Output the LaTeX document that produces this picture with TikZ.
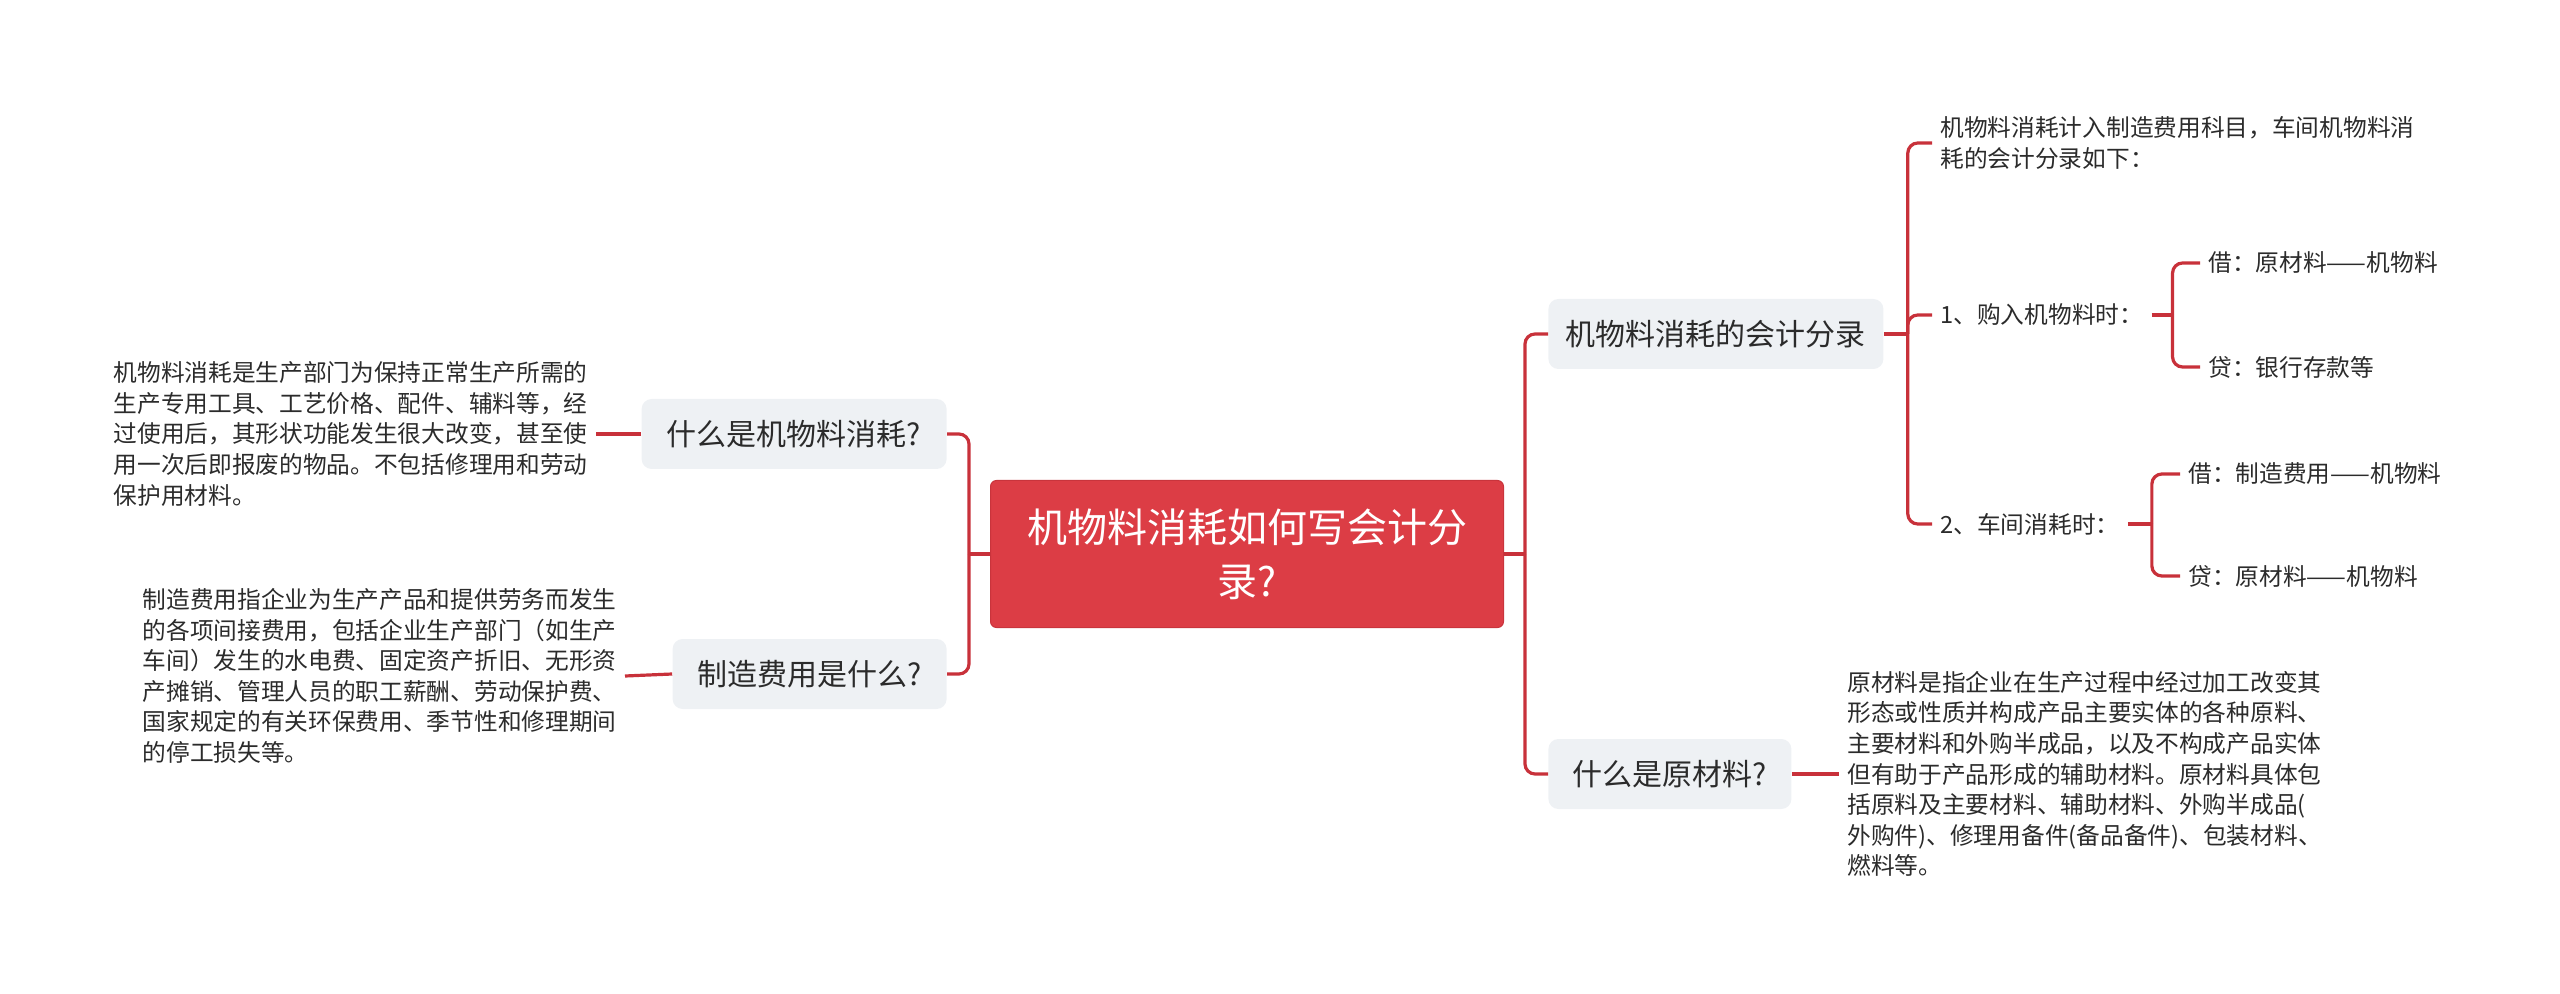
\documentclass[tikz,border=0pt]{standalone}
\usepackage{fontspec}
\setmainfont{Noto Sans CJK SC}
\definecolor{mmroot}{HTML}{DC3D45}
\definecolor{mmrootedge}{HTML}{C9343C}
\definecolor{mmline}{HTML}{C8313A}
\definecolor{mmtopic}{HTML}{EEF1F4}
\definecolor{mmtext}{HTML}{2B2B2B}
\tikzset{
  rootbox/.style={draw=mmrootedge, line width=0.5pt, fill=mmroot, rounded corners=3pt,
    text=white, align=center, font=\fontsize{20}{27}\selectfont,
    minimum width=256.5pt, minimum height=73.5pt},
  topicbox/.style={fill=mmtopic, rounded corners=5pt, text=mmtext,
    font=\fontsize{15}{18}\selectfont, minimum height=35pt, inner xsep=8pt},
  leaftext/.style={text=mmtext, align=left, font=\fontsize{11.85}{15.3}\selectfont, inner sep=4pt},
  link/.style={draw=mmline, line width=1.6pt},
  elbow/.style={link, rounded corners=5pt},
}
\begin{document}
\begin{tikzpicture}[x=0.5pt, y=-0.5pt]
\useasboundingbox (0,0) rectangle (2560,994);

% centre
\node[rootbox] (root) at (1247,554) {机物料消耗如何写会计分\\录?};

% left side
\node[topicbox, anchor=east, minimum width=152.5pt] (whatis) at (947,434) {什么是机物料消耗?};
\node[topicbox, anchor=east, minimum width=137pt] (mfgcost) at (947,674) {制造费用是什么?};
\node[leaftext, anchor=east] (whatisnote) at (596,434) {机物料消耗是生产部门为保持正常生产所需的\\
生产专用工具、工艺价格、配件、辅料等，经\\
过使用后，其形状功能发生很大改变，甚至使\\
用一次后即报废的物品。不包括修理用和劳动\\
保护用材料。};
\node[leaftext, anchor=east] (mfgnote) at (625,676) {制造费用指企业为生产产品和提供劳务而发生\\
的各项间接费用，包括企业生产部门（如生产\\
车间）发生的水电费、固定资产折旧、无形资\\
产摊销、管理人员的职工薪酬、劳动保护费、\\
国家规定的有关环保费用、季节性和修理期间\\
的停工损失等。};

% right side
\node[topicbox, anchor=west, minimum width=167.5pt] (entry) at (1548,334) {机物料消耗的会计分录};
\node[topicbox, anchor=west, minimum width=121.5pt] (rawmat) at (1548,774) {什么是原材料?};
\node[leaftext, anchor=west] (entrynote) at (1932,143) {机物料消耗计入制造费用科目，车间机物料消\\
耗的会计分录如下：};
\node[leaftext, anchor=west] (buy) at (1932,315) {1、购入机物料时：};
\node[leaftext, anchor=west] (use) at (1932,524) {2、车间消耗时：};
\node[leaftext, anchor=west] (buydr) at (2200,263) {借：原材料——机物料};
\node[leaftext, anchor=west] (buycr) at (2200,367) {贷：银行存款等};
\node[leaftext, anchor=west] (usedr) at (2180,474) {借：制造费用——机物料};
\node[leaftext, anchor=west] (usecr) at (2180,576) {贷：原材料——机物料};
\node[leaftext, anchor=west] (rawnote) at (1839,774) {原材料是指企业在生产过程中经过加工改变其\\
形态或性质并构成产品主要实体的各种原料、\\
主要材料和外购半成品，以及不构成产品实体\\
但有助于产品形成的辅助材料。原材料具体包\\
括原料及主要材料、辅助材料、外购半成品(\\
外购件)、修理用备件(备品备件)、包装材料、\\
燃料等。};

% connectors
\draw[link] (root.west) -- ++(-21,0) coordinate (lspine);
\draw[elbow] (lspine) |- (whatis.east);
\draw[elbow] (lspine) |- (mfgcost.east);
\draw[link] (whatis.west) -- (whatisnote.east);
\draw[link] (mfgcost.west) -- (mfgnote.east);

\draw[link] (root.east) -- ++(21,0) coordinate (rspine);
\draw[elbow] (rspine) |- (entry.west);
\draw[elbow] (rspine) |- (rawmat.west);
\draw[link] (rawmat.east) -- (rawnote.west);

\draw[link] (entry.east) -- ++(24,0) coordinate (espine);
\draw[elbow] (espine) |- (entrynote.west);
\draw[elbow] (espine) |- (buy.west);
\draw[elbow] (espine) |- (use.west);

\draw[link] (buy.east) -- ++(21,0) coordinate (bspine);
\draw[elbow] (bspine) |- (buydr.west);
\draw[elbow] (bspine) |- (buycr.west);

\draw[link] (use.east) -- ++(24,0) coordinate (uspine);
\draw[elbow] (uspine) |- (usedr.west);
\draw[elbow] (uspine) |- (usecr.west);
\end{tikzpicture}
\end{document}
